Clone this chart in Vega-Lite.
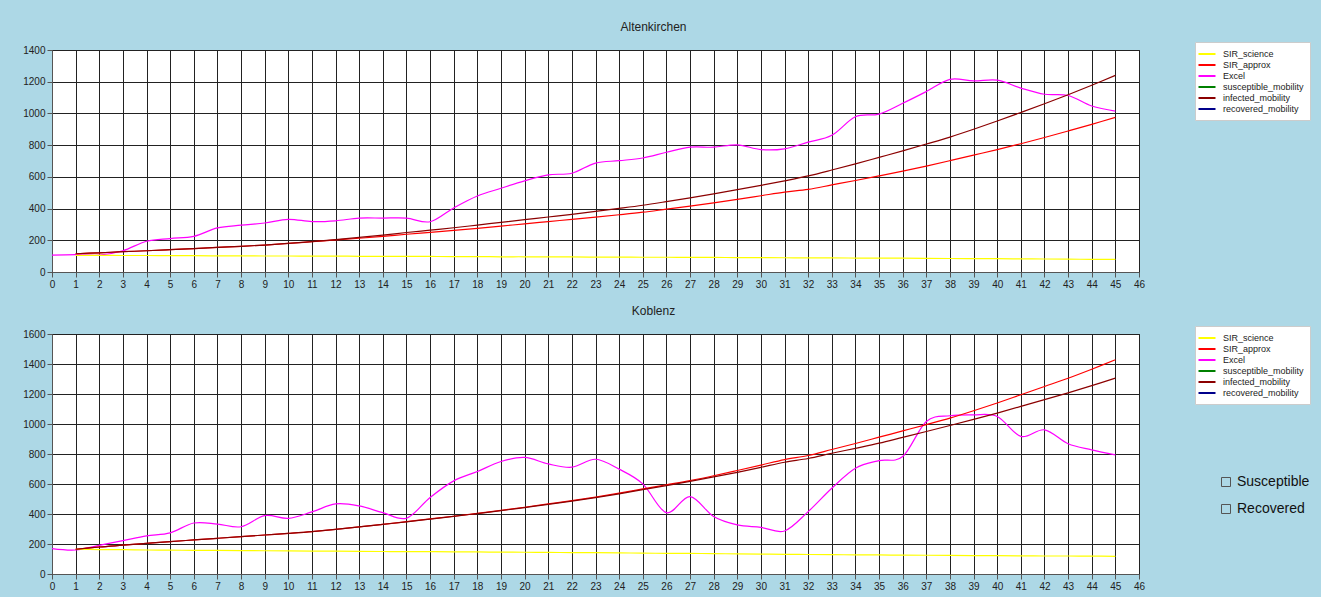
{
  "$schema": "https://vega.github.io/schema/vega-lite/v6.json",
  "background": "#ADD8E6",
  "padding": {"left": 22, "top": 20, "right": 10, "bottom": 5},
  "config": {
    "view": {"fill": "white", "stroke": "#222", "strokeWidth": 1},
    "font": "Liberation Sans",
    "axis": {"gridColor": "#222", "gridOpacity": 1, "gridWidth": 1, "domainColor": "#555", "tickColor": "#555", "tickSize": 5, "labelFontSize": 10, "labelColor": "#222", "labelFlush": false, "labelOverlap": false, "title": null},
    "title": {"fontSize": 12, "fontWeight": "normal", "color": "#222", "anchor": "middle", "offset": 8},
    "concat": {"spacing": 14}
  },
  "datasets": {
    "alt": [
      {"d": 0, "Excel": 106},
      {"d": 1, "SIR_science": 105, "SIR_approx": 115, "Excel": 110, "infected_mobility": 115},
      {"d": 2, "SIR_science": 105, "SIR_approx": 121, "Excel": 106, "infected_mobility": 121},
      {"d": 3, "SIR_science": 104, "SIR_approx": 128, "Excel": 134, "infected_mobility": 128},
      {"d": 4, "SIR_science": 104, "SIR_approx": 134, "Excel": 194, "infected_mobility": 134},
      {"d": 5, "SIR_science": 103, "SIR_approx": 141, "Excel": 211, "infected_mobility": 141},
      {"d": 6, "SIR_science": 103, "SIR_approx": 148, "Excel": 225, "infected_mobility": 148},
      {"d": 7, "SIR_science": 102, "SIR_approx": 155, "Excel": 278, "infected_mobility": 155},
      {"d": 8, "SIR_science": 102, "SIR_approx": 162, "Excel": 295, "infected_mobility": 162},
      {"d": 9, "SIR_science": 101, "SIR_approx": 170, "Excel": 309, "infected_mobility": 170},
      {"d": 10, "SIR_science": 101, "SIR_approx": 180, "Excel": 332, "infected_mobility": 180},
      {"d": 11, "SIR_science": 100, "SIR_approx": 191, "Excel": 318, "infected_mobility": 191},
      {"d": 12, "SIR_science": 100, "SIR_approx": 202, "Excel": 323, "infected_mobility": 204},
      {"d": 13, "SIR_science": 99, "SIR_approx": 213, "Excel": 340, "infected_mobility": 218},
      {"d": 14, "SIR_science": 99, "SIR_approx": 225, "Excel": 340, "infected_mobility": 233},
      {"d": 15, "SIR_science": 98, "SIR_approx": 238, "Excel": 340, "infected_mobility": 249},
      {"d": 16, "SIR_science": 98, "SIR_approx": 250, "Excel": 317, "infected_mobility": 264},
      {"d": 17, "SIR_science": 97, "SIR_approx": 262, "Excel": 404, "infected_mobility": 279},
      {"d": 18, "SIR_science": 97, "SIR_approx": 275, "Excel": 479, "infected_mobility": 296},
      {"d": 19, "SIR_science": 96, "SIR_approx": 289, "Excel": 528, "infected_mobility": 313},
      {"d": 20, "SIR_science": 96, "SIR_approx": 304, "Excel": 575, "infected_mobility": 330},
      {"d": 21, "SIR_science": 95, "SIR_approx": 318, "Excel": 613, "infected_mobility": 347},
      {"d": 22, "SIR_science": 95, "SIR_approx": 332, "Excel": 623, "infected_mobility": 364},
      {"d": 23, "SIR_science": 94, "SIR_approx": 346, "Excel": 687, "infected_mobility": 382},
      {"d": 24, "SIR_science": 94, "SIR_approx": 361, "Excel": 702, "infected_mobility": 401},
      {"d": 25, "SIR_science": 93, "SIR_approx": 377, "Excel": 719, "infected_mobility": 421},
      {"d": 26, "SIR_science": 93, "SIR_approx": 396, "Excel": 755, "infected_mobility": 444},
      {"d": 27, "SIR_science": 92, "SIR_approx": 415, "Excel": 787, "infected_mobility": 468},
      {"d": 28, "SIR_science": 92, "SIR_approx": 436, "Excel": 787, "infected_mobility": 493},
      {"d": 29, "SIR_science": 91, "SIR_approx": 458, "Excel": 802, "infected_mobility": 519},
      {"d": 30, "SIR_science": 91, "SIR_approx": 481, "Excel": 772, "infected_mobility": 546},
      {"d": 31, "SIR_science": 90, "SIR_approx": 504, "Excel": 777, "infected_mobility": 575},
      {"d": 32, "SIR_science": 89, "SIR_approx": 521, "Excel": 819, "infected_mobility": 606},
      {"d": 33, "SIR_science": 89, "SIR_approx": 549, "Excel": 862, "infected_mobility": 643},
      {"d": 34, "SIR_science": 88, "SIR_approx": 577, "Excel": 979, "infected_mobility": 682},
      {"d": 35, "SIR_science": 87, "SIR_approx": 606, "Excel": 996, "infected_mobility": 723},
      {"d": 36, "SIR_science": 87, "SIR_approx": 636, "Excel": 1064, "infected_mobility": 764},
      {"d": 37, "SIR_science": 86, "SIR_approx": 668, "Excel": 1138, "infected_mobility": 807},
      {"d": 38, "SIR_science": 85, "SIR_approx": 702, "Excel": 1215, "infected_mobility": 851},
      {"d": 39, "SIR_science": 84, "SIR_approx": 737, "Excel": 1205, "infected_mobility": 900},
      {"d": 40, "SIR_science": 84, "SIR_approx": 772, "Excel": 1210, "infected_mobility": 952},
      {"d": 41, "SIR_science": 83, "SIR_approx": 809, "Excel": 1160, "infected_mobility": 1006},
      {"d": 42, "SIR_science": 82, "SIR_approx": 848, "Excel": 1121, "infected_mobility": 1061},
      {"d": 43, "SIR_science": 81, "SIR_approx": 889, "Excel": 1113, "infected_mobility": 1118},
      {"d": 44, "SIR_science": 80, "SIR_approx": 931, "Excel": 1047, "infected_mobility": 1178},
      {"d": 45, "SIR_science": 79, "SIR_approx": 975, "Excel": 1015, "infected_mobility": 1240}
    ],
    "kob": [
      {"d": 0, "Excel": 169},
      {"d": 1, "SIR_science": 165, "SIR_approx": 165, "Excel": 160, "infected_mobility": 165},
      {"d": 2, "SIR_science": 163, "SIR_approx": 180, "Excel": 191, "infected_mobility": 180},
      {"d": 3, "SIR_science": 162, "SIR_approx": 192, "Excel": 222, "infected_mobility": 192},
      {"d": 4, "SIR_science": 160, "SIR_approx": 204, "Excel": 254, "infected_mobility": 204},
      {"d": 5, "SIR_science": 159, "SIR_approx": 216, "Excel": 274, "infected_mobility": 216},
      {"d": 6, "SIR_science": 158, "SIR_approx": 227, "Excel": 340, "infected_mobility": 227},
      {"d": 7, "SIR_science": 157, "SIR_approx": 238, "Excel": 333, "infected_mobility": 238},
      {"d": 8, "SIR_science": 156, "SIR_approx": 249, "Excel": 315, "infected_mobility": 249},
      {"d": 9, "SIR_science": 155, "SIR_approx": 260, "Excel": 389, "infected_mobility": 260},
      {"d": 10, "SIR_science": 154, "SIR_approx": 271, "Excel": 371, "infected_mobility": 271},
      {"d": 11, "SIR_science": 153, "SIR_approx": 283, "Excel": 414, "infected_mobility": 283},
      {"d": 12, "SIR_science": 152, "SIR_approx": 298, "Excel": 467, "infected_mobility": 298},
      {"d": 13, "SIR_science": 151, "SIR_approx": 314, "Excel": 454, "infected_mobility": 314},
      {"d": 14, "SIR_science": 150, "SIR_approx": 331, "Excel": 409, "infected_mobility": 331},
      {"d": 15, "SIR_science": 149, "SIR_approx": 349, "Excel": 372, "infected_mobility": 348},
      {"d": 16, "SIR_science": 149, "SIR_approx": 367, "Excel": 510, "infected_mobility": 366},
      {"d": 17, "SIR_science": 148, "SIR_approx": 385, "Excel": 621, "infected_mobility": 384},
      {"d": 18, "SIR_science": 147, "SIR_approx": 404, "Excel": 683, "infected_mobility": 403},
      {"d": 19, "SIR_science": 146, "SIR_approx": 424, "Excel": 750, "infected_mobility": 422},
      {"d": 20, "SIR_science": 145, "SIR_approx": 445, "Excel": 777, "infected_mobility": 443},
      {"d": 21, "SIR_science": 144, "SIR_approx": 467, "Excel": 734, "infected_mobility": 464},
      {"d": 22, "SIR_science": 143, "SIR_approx": 489, "Excel": 712, "infected_mobility": 486},
      {"d": 23, "SIR_science": 142, "SIR_approx": 513, "Excel": 765, "infected_mobility": 509},
      {"d": 24, "SIR_science": 141, "SIR_approx": 539, "Excel": 699, "infected_mobility": 534},
      {"d": 25, "SIR_science": 139, "SIR_approx": 567, "Excel": 601, "infected_mobility": 562},
      {"d": 26, "SIR_science": 138, "SIR_approx": 595, "Excel": 409, "infected_mobility": 589},
      {"d": 27, "SIR_science": 137, "SIR_approx": 623, "Excel": 516, "infected_mobility": 617},
      {"d": 28, "SIR_science": 136, "SIR_approx": 655, "Excel": 383, "infected_mobility": 647},
      {"d": 29, "SIR_science": 134, "SIR_approx": 690, "Excel": 327, "infected_mobility": 678},
      {"d": 30, "SIR_science": 133, "SIR_approx": 726, "Excel": 311, "infected_mobility": 711},
      {"d": 31, "SIR_science": 131, "SIR_approx": 763, "Excel": 287, "infected_mobility": 745},
      {"d": 32, "SIR_science": 130, "SIR_approx": 790, "Excel": 416, "infected_mobility": 770},
      {"d": 33, "SIR_science": 129, "SIR_approx": 830, "Excel": 572, "infected_mobility": 805},
      {"d": 34, "SIR_science": 128, "SIR_approx": 870, "Excel": 705, "infected_mobility": 838},
      {"d": 35, "SIR_science": 127, "SIR_approx": 912, "Excel": 756, "infected_mobility": 872},
      {"d": 36, "SIR_science": 126, "SIR_approx": 954, "Excel": 783, "infected_mobility": 911},
      {"d": 37, "SIR_science": 125, "SIR_approx": 996, "Excel": 1017, "infected_mobility": 950},
      {"d": 38, "SIR_science": 124, "SIR_approx": 1039, "Excel": 1055, "infected_mobility": 990},
      {"d": 39, "SIR_science": 123, "SIR_approx": 1088, "Excel": 1061, "infected_mobility": 1031},
      {"d": 40, "SIR_science": 122, "SIR_approx": 1140, "Excel": 1050, "infected_mobility": 1073},
      {"d": 41, "SIR_science": 121, "SIR_approx": 1195, "Excel": 917, "infected_mobility": 1117},
      {"d": 42, "SIR_science": 120, "SIR_approx": 1250, "Excel": 961, "infected_mobility": 1162},
      {"d": 43, "SIR_science": 120, "SIR_approx": 1305, "Excel": 868, "infected_mobility": 1208},
      {"d": 44, "SIR_science": 119, "SIR_approx": 1365, "Excel": 828, "infected_mobility": 1256},
      {"d": 45, "SIR_science": 118, "SIR_approx": 1428, "Excel": 794, "infected_mobility": 1306}
    ]
  },
  "vconcat": [
    {
      "title": {"text": "Altenkirchen", "frame": "group", "dx": 58},
      "width": 1087,
      "height": 222,
      "view": {"fill": "white", "stroke": "#222"},
      "data": {"name": "alt"},
      "transform": [
        {"fold": ["SIR_science", "SIR_approx", "Excel", "infected_mobility"], "as": ["series", "value"]},
        {"filter": "isValid(datum.value)"}
      ],
      "mark": {"type": "line", "interpolate": "cardinal", "strokeWidth": 1.2},
      "encoding": {
        "x": {"field": "d", "type": "quantitative", "scale": {"domain": [0, 46], "nice": false},
              "axis": {"values": [0,1,2,3,4,5,6,7,8,9,10,11,12,13,14,15,16,17,18,19,20,21,22,23,24,25,26,27,28,29,30,31,32,33,34,35,36,37,38,39,40,41,42,43,44,45,46]}},
        "y": {"field": "value", "type": "quantitative", "scale": {"domain": [0, 1400], "nice": false},
              "axis": {"values": [0,200,400,600,800,1000,1200,1400], "format": "d"}},
        "color": {"field": "series", "type": "nominal",
                  "scale": {"domain": ["SIR_science","SIR_approx","Excel","susceptible_mobility","infected_mobility","recovered_mobility"],
                            "range": ["#FFFF00","#FF0000","#FF00FF","#008000","#8B0000","#00008B"]},
                  "legend": {"title": null, "orient": "none", "legendX": 1143, "legendY": -8, "fillColor": "white", "strokeColor": "#ccc", "padding": 6, "symbolType": "M-1.7,0H1.7", "symbolStrokeWidth": 2, "symbolSize": 100, "labelFontSize": 9, "labelColor": "#222", "rowPadding": 0, "labelOffset": 10}}
      }
    },
    {
      "title": {"text": "Koblenz", "frame": "group", "dx": 58},
      "width": 1087,
      "height": 240,
      "view": {"fill": "white", "stroke": "#222"},
      "layer": [
        {
          "data": {"name": "kob"},
          "transform": [
            {"fold": ["SIR_science", "SIR_approx", "Excel", "infected_mobility"], "as": ["series", "value"]},
            {"filter": "isValid(datum.value)"}
          ],
          "mark": {"type": "line", "interpolate": "cardinal", "strokeWidth": 1.2},
          "encoding": {
            "x": {"field": "d", "type": "quantitative", "scale": {"domain": [0, 46], "nice": false},
                  "axis": {"values": [0,1,2,3,4,5,6,7,8,9,10,11,12,13,14,15,16,17,18,19,20,21,22,23,24,25,26,27,28,29,30,31,32,33,34,35,36,37,38,39,40,41,42,43,44,45,46]}},
            "y": {"field": "value", "type": "quantitative", "scale": {"domain": [0, 1600], "nice": false},
                  "axis": {"values": [0,200,400,600,800,1000,1200,1400,1600], "format": "d"}},
            "color": {"field": "series", "type": "nominal",
                      "scale": {"domain": ["SIR_science","SIR_approx","Excel","susceptible_mobility","infected_mobility","recovered_mobility"],
                                "range": ["#FFFF00","#FF0000","#FF00FF","#008000","#8B0000","#00008B"]},
                      "legend": {"title": null, "orient": "none", "legendX": 1143, "legendY": -8, "fillColor": "white", "strokeColor": "#ccc", "padding": 6, "symbolType": "M-1.7,0H1.7", "symbolStrokeWidth": 2, "symbolSize": 100, "labelFontSize": 9, "labelColor": "#222", "rowPadding": 0, "labelOffset": 10}}
          }
        },
        {
          "data": {"values": [{"cb": "Susceptible"}, {"cb": "Recovered"}]},
          "mark": {"type": "point", "filled": false, "stroke": "#555", "strokeWidth": 1, "opacity": 0},
          "encoding": {
            "shape": {"field": "cb", "type": "nominal",
                      "scale": {"domain": ["Susceptible", "Recovered"], "range": ["square", "square"]},
                      "legend": {"title": null, "orient": "none", "legendX": 1167, "legendY": 141, "padding": 0, "symbolType": "square", "symbolSize": 81, "symbolFillColor": "white", "symbolStrokeColor": "#555", "symbolStrokeWidth": 1, "symbolOpacity": 1, "labelFontSize": 14, "labelColor": "#111", "labelOffset": 4, "rowPadding": 13}}
          }
        }
      ]
    }
  ],
  "resolve": {"scale": {"color": "independent", "y": "independent", "shape": "independent"}, "legend": {"color": "independent", "shape": "independent"}}
}
